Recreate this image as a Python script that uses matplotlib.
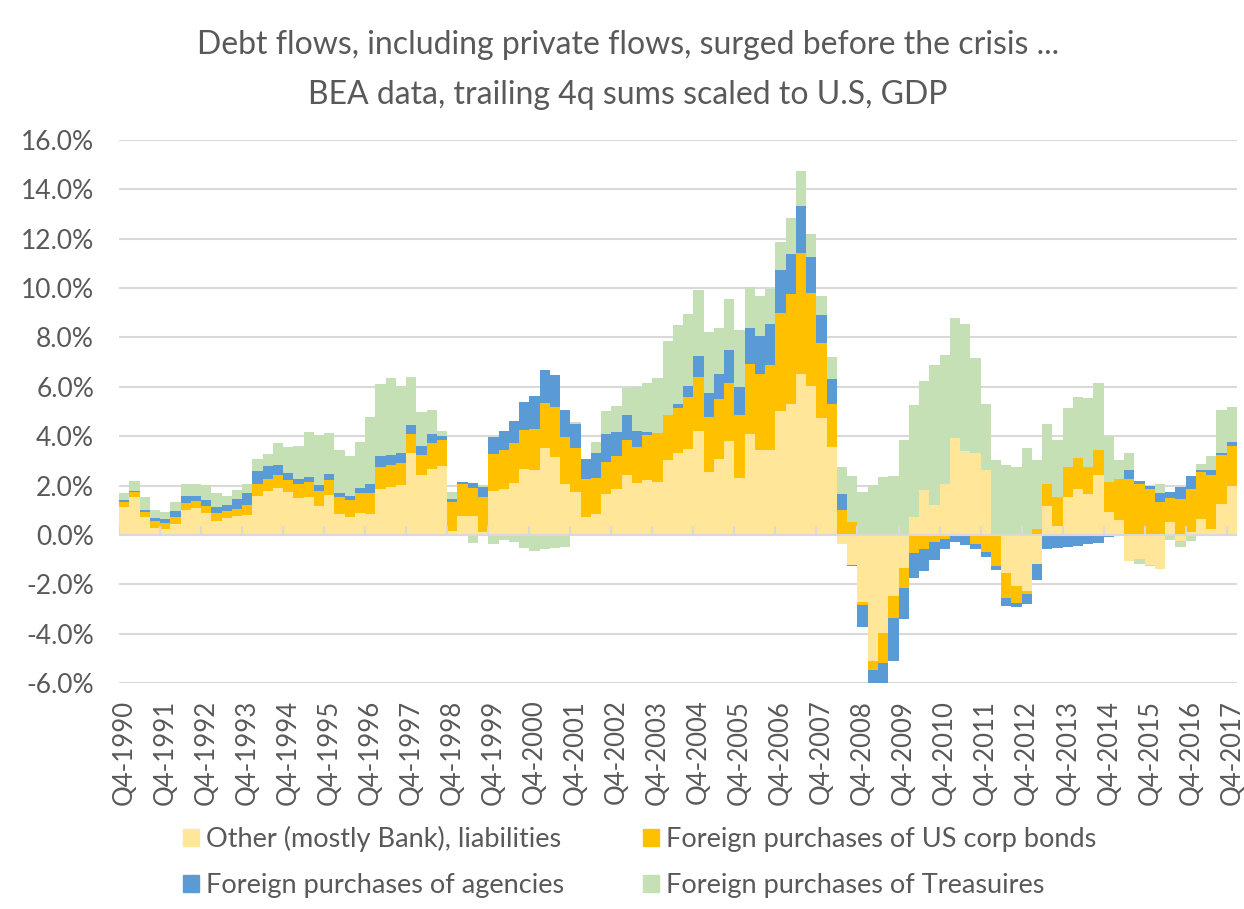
import numpy as np
import matplotlib.pyplot as plt
from matplotlib.patches import Patch

# Trailing 4q sums scaled to GDP (%), one value per quarter, Q4-1990 .. Q4-2017
other = [1.13, 1.55, 0.74, 0.30, 0.22, 0.43, 1.02, 1.08, 0.88, 0.58,
         0.67, 0.78, 0.81, 1.59, 1.77, 1.89, 1.73, 1.51, 1.55, 1.19,
         1.63, 0.85, 0.71, 0.88, 0.85, 1.87, 1.95, 2.02, 3.31, 2.43,
         2.69, 2.80, 0.17, 0.78, 0.75, 0.13, 1.78, 1.87, 2.12, 2.67,
         2.64, 3.54, 3.17, 2.05, 1.73, 0.73, 0.84, 1.65, 1.88, 2.42,
         2.09, 2.23, 2.15, 3.03, 3.31, 3.50, 4.22, 2.55, 3.08, 3.81,
         2.32, 4.10, 3.46, 3.42, 5.04, 5.29, 6.52, 6.03, 4.74, 3.56,
         -0.35, -1.21, -2.72, -5.10, -3.97, -2.47, -1.36, 0.74, 1.81, 1.21,
         2.07, 3.92, 3.40, 3.32, 2.61, 0.00, -1.54, -2.05, -2.28, -1.16,
         1.17, 0.38, 1.53, 1.84, 1.66, 2.41, 0.92, 0.62, -1.07, -0.98,
         -1.22, -1.38, 0.54, -0.23, 0.11, 0.65, 0.22, 1.26, 1.97]

corp_bonds = [0.22, 0.17, 0.18, 0.25, 0.25, 0.31, 0.29, 0.31, 0.29, 0.30,
              0.29, 0.28, 0.40, 0.46, 0.51, 0.54, 0.51, 0.54, 0.58, 0.58,
              0.61, 0.70, 0.72, 0.82, 0.86, 0.89, 0.87, 0.90, 0.78, 0.80,
              1.05, 1.04, 1.18, 1.28, 1.16, 1.41, 1.49, 1.55, 1.61, 1.57,
              1.64, 1.81, 2.03, 1.92, 1.81, 1.55, 1.48, 1.32, 1.32, 1.43,
              1.48, 1.82, 1.96, 1.83, 1.83, 2.08, 2.16, 2.21, 2.43, 2.35,
              2.52, 2.84, 3.06, 3.45, 3.94, 4.46, 4.91, 3.79, 3.02, 1.73,
              0.99, 0.54, -0.10, -0.37, -1.20, -0.89, -0.80, -0.72, -0.56, -0.30,
              -0.15, 0.00, 0.00, -0.37, -0.70, -1.27, -1.03, -0.70, -0.11, 0.22,
              0.91, 1.15, 1.21, 1.28, 1.08, 1.05, 1.22, 1.66, 2.27, 2.07,
              1.84, 1.32, 0.96, 1.46, 1.73, 1.89, 2.19, 1.96, 1.65]

agencies = [0.07, 0.07, 0.09, 0.15, 0.16, 0.22, 0.28, 0.20, 0.25, 0.24,
            0.25, 0.40, 0.50, 0.55, 0.51, 0.41, 0.28, 0.23, 0.22, 0.27,
            0.21, 0.16, 0.16, 0.20, 0.34, 0.42, 0.40, 0.41, 0.36, 0.36,
            0.33, 0.17, 0.10, 0.10, 0.20, 0.39, 0.68, 0.81, 0.90, 1.14,
            1.36, 1.33, 1.28, 1.08, 0.95, 0.80, 0.98, 1.11, 0.98, 1.00,
            0.65, 0.13, 0.00, 0.00, 0.16, 0.47, 0.88, 0.98, 1.02, 1.34,
            1.14, 1.43, 1.53, 1.67, 1.76, 1.65, 1.88, 1.44, 1.13, 1.03,
            0.65, -0.03, -0.90, -0.60, -0.90, -1.76, -1.23, -1.03, -0.90, -0.70,
            -0.42, -0.29, -0.39, -0.19, -0.20, -0.15, -0.30, -0.18, -0.41, -0.66,
            -0.57, -0.53, -0.50, -0.45, -0.38, -0.32, -0.10, -0.05, 0.35, 0.13,
            0.13, 0.37, 0.23, 0.47, 0.53, 0.11, 0.24, 0.09, 0.14]

treasuries = [0.29, 0.41, 0.53, 0.32, 0.31, 0.39, 0.47, 0.47, 0.60, 0.56,
              0.35, 0.37, 0.35, 0.47, 0.48, 0.87, 1.05, 1.33, 1.81, 2.02,
              1.66, 1.74, 1.62, 1.85, 2.73, 2.93, 3.15, 2.71, 1.93, 1.37,
              1.00, 0.21, 0.30, 0.00, -0.32, 0.11, -0.35, -0.22, -0.28, -0.54,
              -0.65, -0.59, -0.52, -0.49, 0.10, 0.00, 0.48, 0.95, 1.05, 1.12,
              1.78, 1.97, 2.23, 3.00, 3.21, 2.91, 2.67, 2.50, 1.85, 2.04,
              2.31, 1.66, 1.63, 1.42, 1.14, 1.43, 1.44, 0.95, 0.79, 0.89,
              1.10, 1.85, 1.72, 2.03, 2.36, 2.40, 3.86, 4.54, 4.44, 5.66,
              5.20, 4.87, 5.15, 3.86, 2.70, 3.05, 2.84, 2.77, 3.53, 2.83,
              2.42, 2.32, 2.42, 2.46, 2.80, 2.68, 1.85, 0.77, 0.69, -0.20,
              -0.05, 0.38, -0.20, -0.27, -0.23, 0.23, 0.53, 1.77, 1.42]

tick_labels = ['Q4-1990', 'Q4-1991', 'Q4-1992', 'Q4-1993', 'Q4-1994', 'Q4-1995',
               'Q4-1996', 'Q4-1997', 'Q4-1998', 'Q4-1999', 'Q4-2000', 'Q4-2001',
               'Q4-2002', 'Q4-2003', 'Q4-2004', 'Q4-2005', 'Q4-2006', 'Q4-2007',
               'Q4-2008', 'Q4-2009', 'Q4-2010', 'Q4-2011', 'Q4-2012', 'Q4-2013',
               'Q4-2014', 'Q4-2015', 'Q4-2016', 'Q4-2017']

series_names = ['Other (mostly Bank), liabilities',
                'Foreign purchases of US corp bonds',
                'Foreign purchases of agencies',
                'Foreign purchases of Treasuires']
colors = ['#FFE699', '#FFC000', '#5B9BD5', '#C5E0B4']
text_col = '#595959'

plt.rcParams['font.family'] = ['Lato', 'DejaVu Sans']

fig = plt.figure(figsize=(12.44, 9.09), dpi=100)
ax = fig.add_axes([119 / 1244, 1 - 683 / 909, (1237 - 119) / 1244, (683 - 140) / 909])

n = len(other)
x = np.arange(n)
pos_base = np.zeros(n)
neg_base = np.zeros(n)
# Excel-style stacking: positives up from zero, negatives down from zero
for vals, col, name in zip([other, corp_bonds, agencies, treasuries], colors, series_names):
    v = np.array(vals)
    base = np.where(v >= 0, pos_base, neg_base)
    ax.bar(x, v, width=1.0, bottom=base, color=col, linewidth=0, label=name, zorder=2)
    pos_base += np.clip(v, 0, None)
    neg_base += np.clip(v, None, 0)

ax.set_xlim(-0.5, n - 0.5)
ax.set_ylim(-6, 16)
ax.set_yticks(np.arange(-6, 17, 2))
ax.set_yticklabels([f'{t:.1f}%' for t in np.arange(-6, 17, 2)])
ax.yaxis.grid(True, color='#D9D9D9', lw=1.5, zorder=0)
ax.set_axisbelow(True)
for s in ax.spines.values():
    s.set_visible(False)

# category axis at zero with tick marks every 4 quarters
ax.axhline(0, color='#D9D9D9', lw=1.5, zorder=3)
ax.vlines(np.arange(-0.5, n, 4), 0, 0.36, color='#D9D9D9', lw=1.5, zorder=3)

ax.set_xticks(np.arange(0, n, 4))
ax.set_xticklabels(tick_labels, rotation=90)
ax.tick_params(axis='x', length=0, pad=12, labelsize=18.5, labelcolor=text_col)
ax.tick_params(axis='y', length=0, pad=18, labelsize=19, labelcolor=text_col)

fig.text(0.505, 0.951, 'Debt flows, including private flows, surged before the crisis ...',
         ha='center', va='center', fontsize=23, color=text_col)
fig.text(0.505, 0.896, 'BEA data, trailing 4q sums scaled to U.S, GDP',
         ha='center', va='center', fontsize=23, color=text_col)

handles = [Patch(color=c) for c in colors]
order = [0, 2, 1, 3]
fig.legend([handles[i] for i in order], [series_names[i] for i in order],
           ncol=2, loc='upper left', bbox_to_anchor=(183 / 1244, 1 - 826 / 909),
           frameon=False, borderpad=0, borderaxespad=0,
           fontsize=19.5, labelcolor=text_col, handlelength=0.6, handleheight=0.6,
           handletextpad=0.25, columnspacing=2.9, labelspacing=0.78)

fig.savefig('out.png', dpi=100)
